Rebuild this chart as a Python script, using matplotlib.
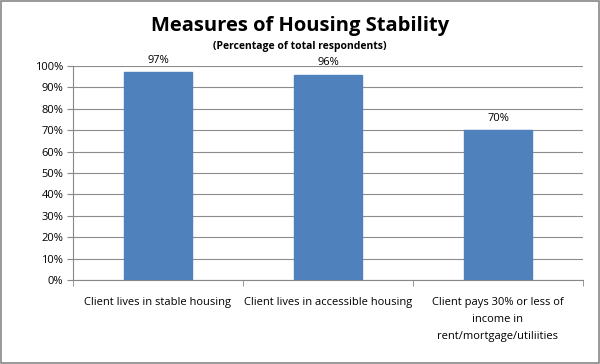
import numpy as np
from matplotlib import pyplot as plt
from matplotlib.ticker import PercentFormatter

categories = ['Client lives in stable housing',
              'Client lives in accessible housing',
              'Client pays 30% or less of\nincome in\nrent/mortgage/utiliities']
values = [97, 96, 70]
yticks = list(range(0, 101, 10))

plt.rcParams['font.family'] = ['Open Sans', 'DejaVu Sans']

fig = plt.figure(figsize=(6, 3.64), dpi=100)
ax = fig.add_axes([73/600, 1 - 280/364, 510/600, 214/364])

x = np.arange(len(categories))
bars = ax.bar(x, values, width=0.4, color='#4F81BD', edgecolor='#4F81BD', zorder=3)
for b, v in zip(bars, values):
    ax.text(b.get_x() + b.get_width()/2, v + 3, '%d%%' % v,
            ha='center', va='bottom', fontsize=8)

ax.set_xlim(-0.5, len(categories) - 0.5)
ax.set_ylim(0, 100)
ax.set_yticks(yticks)
ax.yaxis.set_major_formatter(PercentFormatter(decimals=0))
ax.set_xticks(x)
ax.set_xticklabels(categories, fontsize=8, linespacing=1.75)
ax.tick_params(axis='y', labelsize=8, length=4, color='#888888', pad=3)
ax.tick_params(axis='x', length=0, pad=12)
# tick marks between categories
ax.set_xticks(np.arange(-0.5, len(categories)), minor=True)
ax.tick_params(axis='x', which='minor', length=4, color='#888888')
ax.grid(axis='y', color='#8c8c8c', linewidth=0.8, zorder=0)

for s in ['top', 'right']:
    ax.spines[s].set_visible(False)
for s in ['left', 'bottom']:
    ax.spines[s].set_color('#888888')

fig.text(0.5, 1 - 26/364, 'Measures of Housing Stability', ha='center', va='center',
         fontsize=14.5, fontweight='bold')
fig.text(0.5, 1 - 46/364, '(Percentage of total respondents)', ha='center', va='center',
         fontsize=7.5, fontweight='bold')

fig.patches.append(plt.Rectangle((0.002, 0.003), 0.996, 0.994, transform=fig.transFigure,
                                 fill=False, edgecolor='#888888', linewidth=1.2))

fig.savefig('out.png', dpi=100)
